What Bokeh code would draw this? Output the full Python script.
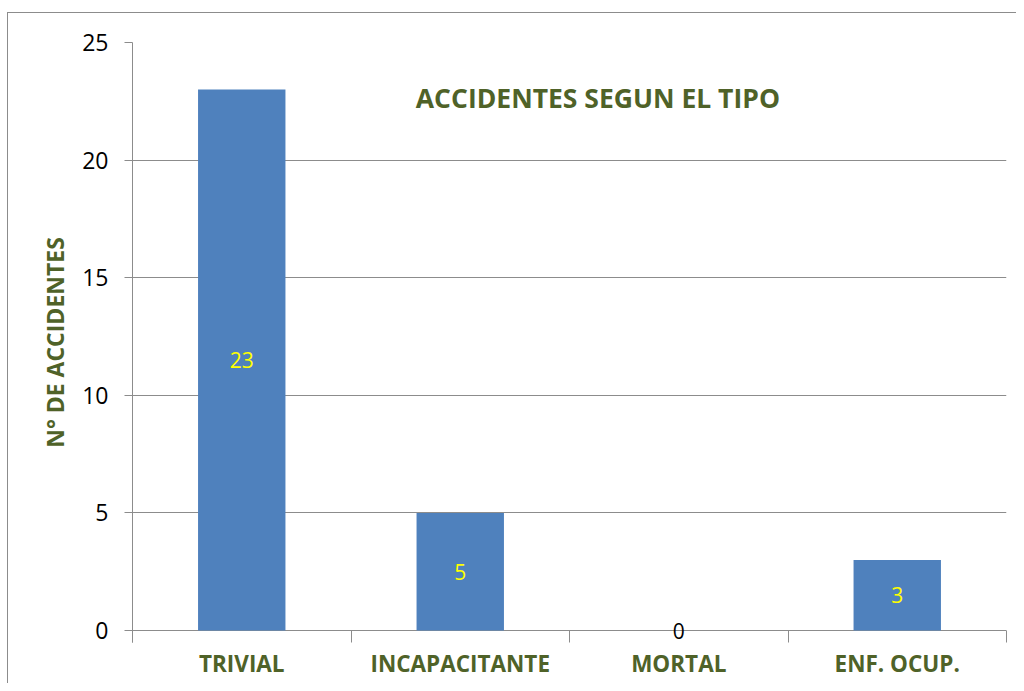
from bokeh.plotting import figure
from bokeh.models import ColumnDataSource, FixedTicker, Label, LabelSet, Range1d
from bokeh.core.properties import value
from bokeh.embed import file_html
from bokeh.resources import INLINE

categories = ["TRIVIAL", "INCAPACITANTE", "MORTAL", "ENF. OCUP."]
counts = [23, 5, 0, 3]
title_text = "ACCIDENTES SEGUN EL TIPO"
y_label = "N° DE ACCIDENTES"
y_ticks = [0, 5, 10, 15, 20, 25]

FONT = "Open Sans"
GREEN = "#4F6228"
GRID = "#8C8C8C"

xs = [i + 0.5 for i in range(len(categories))]
label_colors = ["#FFFF00" if c > 0 else "#000000" for c in counts]
src = ColumnDataSource(dict(
    x=xs, top=counts, mid=[c / 2 for c in counts],
    txt=[str(c) for c in counts], col=label_colors,
))

p = figure(
    width=1016, height=683,
    frame_width=874, frame_height=600,
    min_border_left=132, min_border_right=10,
    min_border_top=42, min_border_bottom=41,
    x_range=Range1d(0, len(categories)), y_range=Range1d(-0.51, 25),
    output_backend="svg", toolbar_location=None,
    styles={"box-shadow": "inset 7px 12px 0 0 white, inset 8px 13px 0 0 #8C8C8C",
            "background-color": "white"},
)
p.outline_line_color = None
p.background_fill_color = "white"
p.border_fill_color = None

p.vbar(x="x", top="top", width=0.4, bottom=0, source=src,
       fill_color="#4F81BD", line_color=None)
labels = LabelSet(x="x", y="mid", text="txt", source=src, text_color="col",
                  text_align="center", text_baseline="middle",
                  text_font=value(FONT), text_font_size="21px")
p.add_layout(labels)

# grid
p.xgrid.grid_line_color = None
p.ygrid.grid_line_color = GRID
p.ygrid.grid_line_width = 1
p.ygrid.ticker = FixedTicker(ticks=y_ticks)

# y axis
p.yaxis.ticker = FixedTicker(ticks=y_ticks)
p.yaxis.axis_line_color = GRID
p.yaxis.major_tick_line_color = GRID
p.yaxis.major_tick_out = 8
p.yaxis.major_tick_in = 0
p.yaxis.minor_tick_line_color = None
p.yaxis.major_label_standoff = 16
p.yaxis.major_label_text_font = FONT
p.yaxis.major_label_text_font_size = "23px"
p.yaxis.major_label_text_color = "black"
p.yaxis.axis_label = y_label
p.yaxis.axis_label_text_font = FONT
p.yaxis.axis_label_text_font_style = "bold"
p.yaxis.axis_label_text_font_size = "23px"
p.yaxis.axis_label_text_color = GREEN
p.yaxis.axis_label_standoff = 8

# x axis (line hidden; the zero gridline serves as baseline)
p.xaxis.ticker = FixedTicker(ticks=xs, minor_ticks=list(range(len(categories) + 1)))
p.xaxis.major_label_overrides = {x: c for x, c in zip(xs, categories)}
p.xaxis.axis_line_color = None
p.xaxis.major_tick_line_color = None
p.xaxis.major_tick_out = 0
p.xaxis.major_tick_in = 0
p.xaxis.minor_tick_line_color = GRID
p.xaxis.minor_tick_out = 0
p.xaxis.minor_tick_in = 12
p.xaxis.major_label_standoff = 5
p.xaxis.major_label_text_font = FONT
p.xaxis.major_label_text_font_style = "bold"
p.xaxis.major_label_text_font_size = "22.5px"
p.xaxis.major_label_text_color = GREEN

title = Label(x=2.13, y=22.65, text=title_text, text_align="center",
              text_baseline="middle", text_font=FONT, text_font_style="bold",
              text_font_size="26.5px", text_color=GREEN)
p.add_layout(title)

open("out.html", "w").write(file_html(p, INLINE))
